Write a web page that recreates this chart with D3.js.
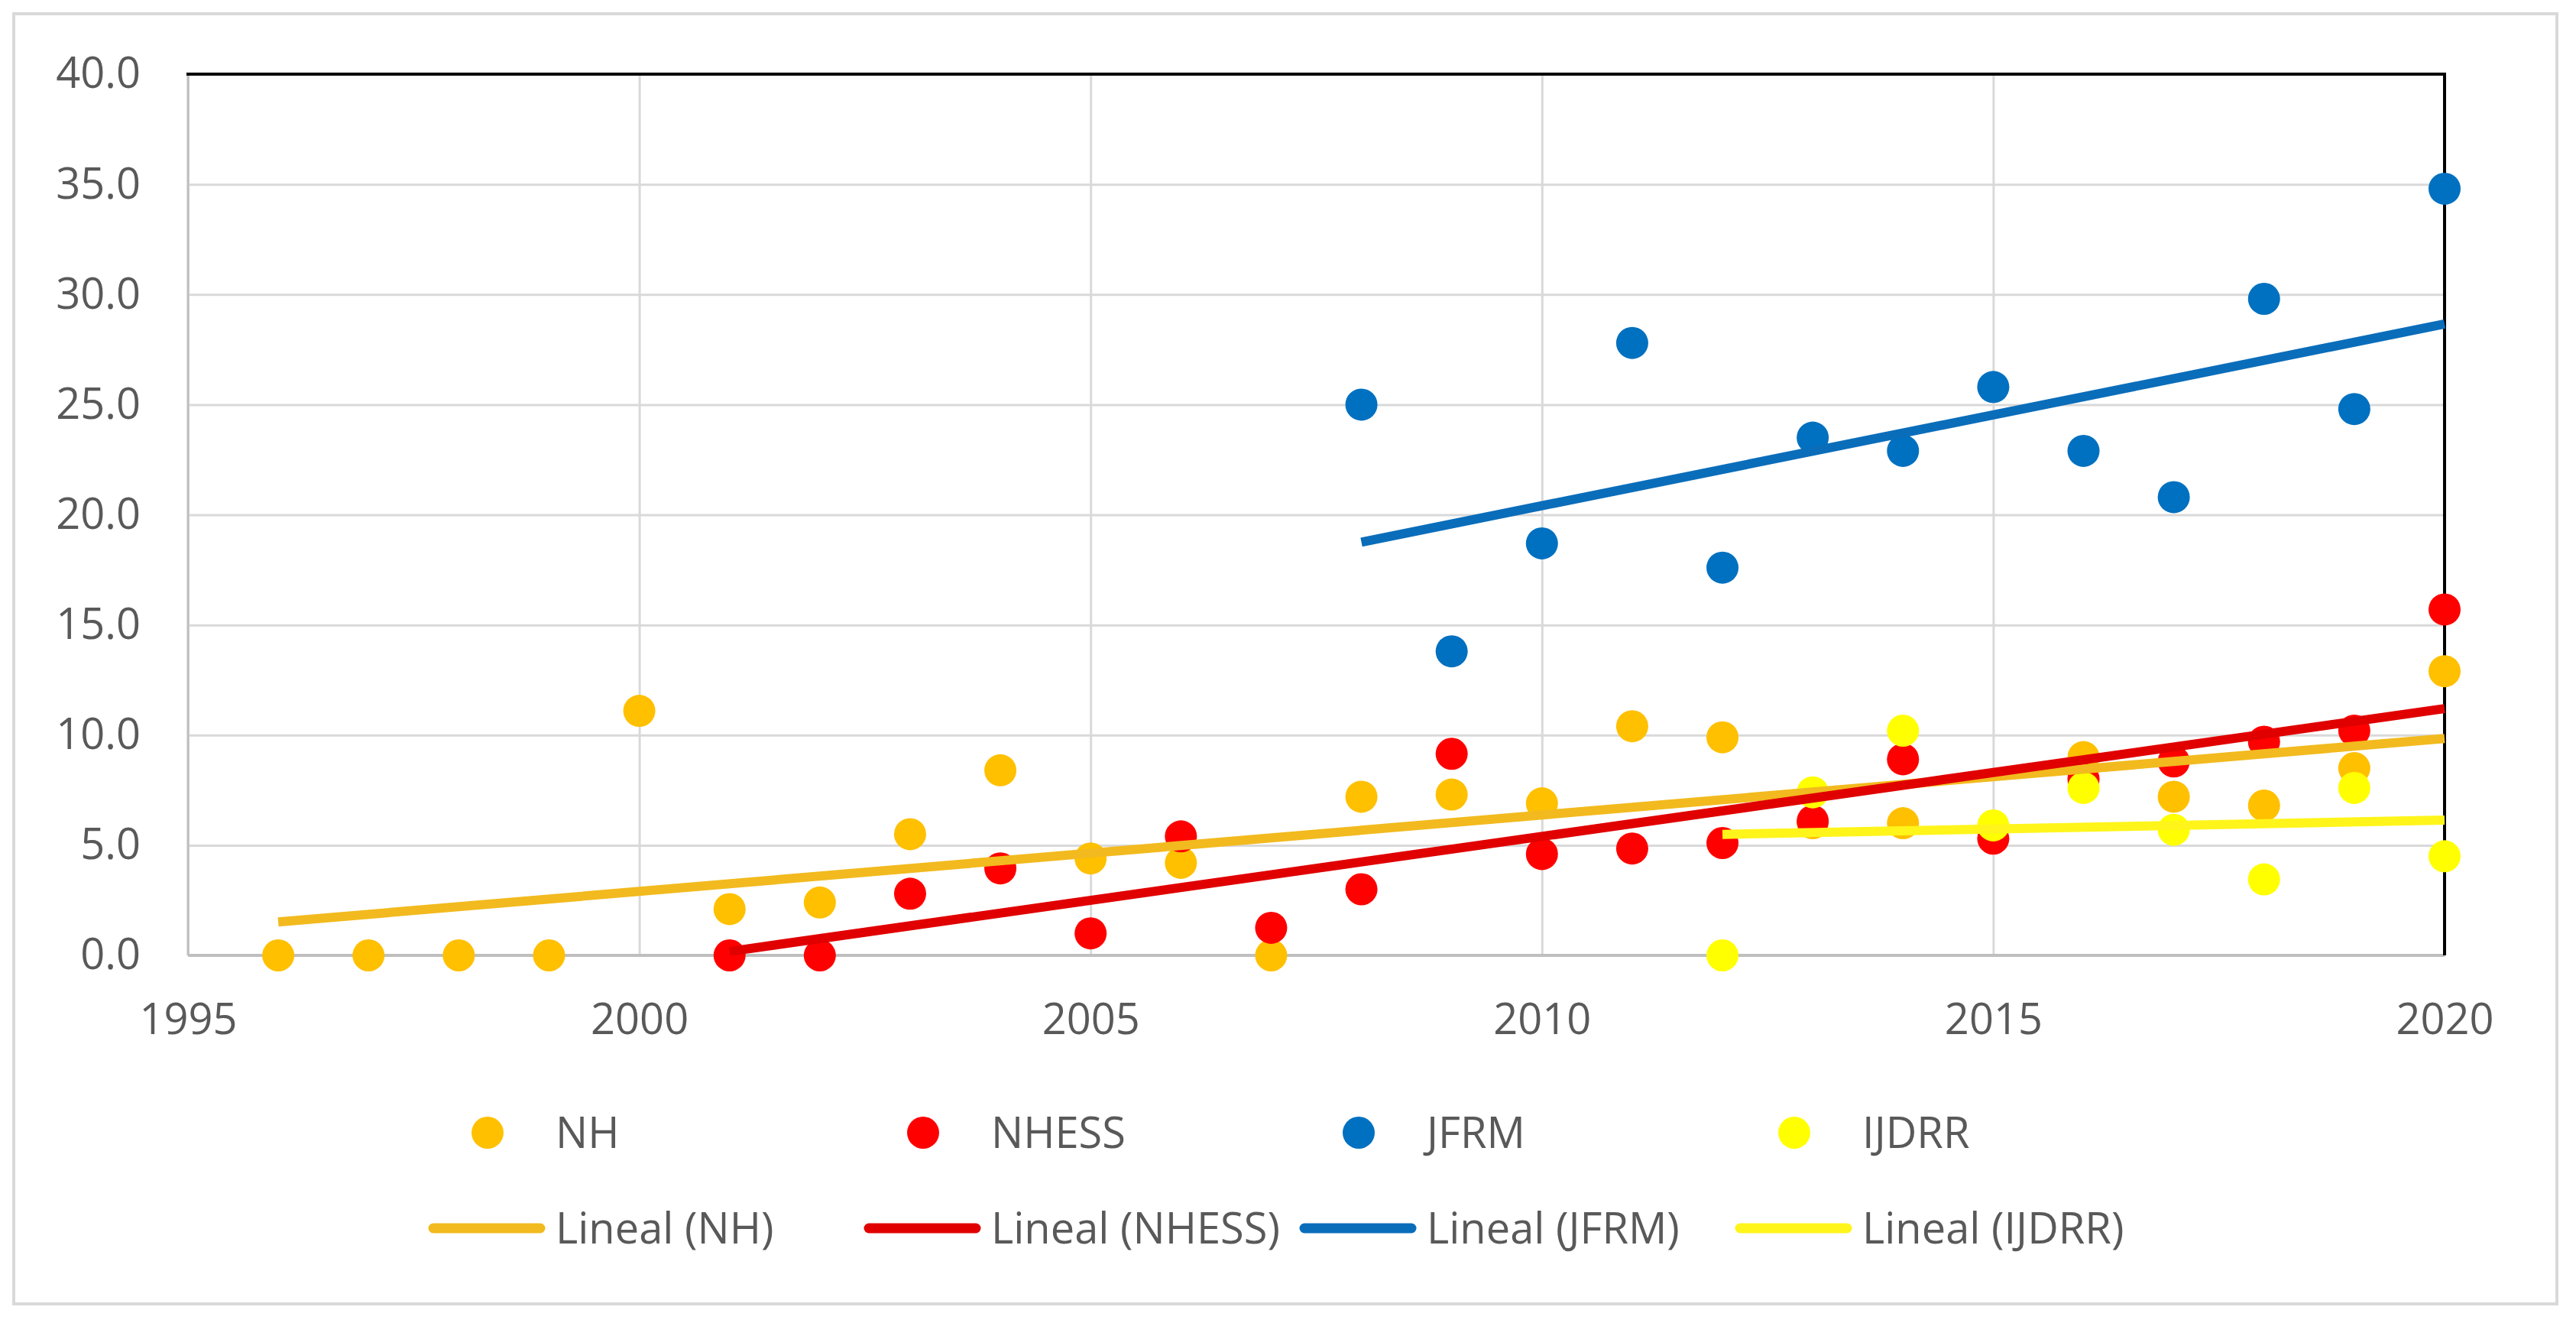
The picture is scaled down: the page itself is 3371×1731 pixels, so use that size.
<!DOCTYPE html>
<html>
<head>
<meta charset="utf-8">
<script src="https://cdn.jsdelivr.net/npm/d3@7"></script>
<style>
    body { margin: 0; background: #ffffff; }
    text { font-family: "Open Sans", sans-serif; }
</style>
</head>
<body>
<svg></svg>
<script>
let nhYears = [1996, 1997, 1998, 1999, 2000, 2001, 2002, 2003, 2004, 2005, 2006, 2007, 2008,
    2009, 2010, 2011, 2012, 2013, 2014, 2015, 2016, 2017, 2018, 2019, 2020];
let nhValues = [0, 0, 0, 0, 11.1, 2.1, 2.4, 5.5, 8.4, 4.4, 4.2, 0, 7.2,
    7.3, 6.9, 10.4, 9.9, 6.0, 6.0, 5.8, 9.0, 7.2, 6.8, 8.5, 12.9];

let nhessYears = [2001, 2002, 2003, 2004, 2005, 2006, 2007, 2008, 2009, 2010,
    2011, 2012, 2013, 2014, 2015, 2016, 2017, 2018, 2019, 2020];
let nhessValues = [0, 0, 2.8, 3.95, 1.0, 5.4, 1.25, 3.0, 9.15, 4.6,
    4.85, 5.1, 6.1, 8.9, 5.3, 8.0, 8.8, 9.7, 10.2, 15.7];

let jfrmYears = [2008, 2009, 2010, 2011, 2012, 2013, 2014, 2015, 2016, 2017, 2018, 2019, 2020];
let jfrmValues = [25.0, 13.8, 18.7, 27.8, 17.6, 23.5, 22.9, 25.8, 22.9, 20.8, 29.8, 24.8, 34.8];

let ijdrrYears = [2012, 2013, 2014, 2015, 2016, 2017, 2018, 2019, 2020];
let ijdrrValues = [0, 7.4, 10.2, 5.9, 7.6, 5.7, 3.45, 7.6, 4.5];

let seriesNames = ['NH', 'NHESS', 'JFRM', 'IJDRR'];
let trendNames = ['Lineal (NH)', 'Lineal (NHESS)', 'Lineal (JFRM)', 'Lineal (IJDRR)'];
let xTicks = [1995, 2000, 2005, 2010, 2015, 2020];
let yTicks = [0, 5, 10, 15, 20, 25, 30, 35, 40];

let dotColors = ['#FFC000', '#FF0000', '#0070C0', '#FFFF00'];
let trendColors = ['#F2BA1E', '#E00000', '#0A6DBA', '#FFF51A'];

let series = [
    { years: nhYears, values: nhValues },
    { years: nhessYears, values: nhessValues },
    { years: jfrmYears, values: jfrmValues },
    { years: ijdrrYears, values: ijdrrValues }
];

let W = 3371, H = 1731;
let plotLeft = 246, plotRight = 3199, plotTop = 97, plotBottom = 1250;

let svg = d3.select('svg')
    .attr('width', W)
    .attr('height', H);

// outer chart border
svg.append('rect')
    .attr('x', 18).attr('y', 18)
    .attr('width', 3328).attr('height', 1688)
    .attr('fill', '#ffffff')
    .attr('stroke', '#D9D9D9')
    .attr('stroke-width', 4);

let xScale = d3.scaleLinear().domain([1995, 2020]).range([plotLeft, plotRight]);
let yScale = d3.scaleLinear().domain([0, 40]).range([plotBottom, plotTop]);

// vertical gridlines + year labels
let xAxis = svg.append('g')
    .attr('transform', `translate(0, ${plotBottom})`)
    .call(d3.axisBottom(xScale)
        .tickValues(xTicks)
        .tickFormat(d3.format('d'))
        .tickSize(-(plotBottom - plotTop))
        .tickPadding(63));
xAxis.select('.domain').remove();
xAxis.selectAll('line').attr('stroke', '#D9D9D9').attr('stroke-width', 3);
xAxis.selectAll('text')
    .attr('fill', '#595959')
    .style('font-size', '56px');

// horizontal gridlines + value labels
let yAxis = svg.append('g')
    .attr('transform', `translate(${plotLeft}, 0)`)
    .call(d3.axisLeft(yScale)
        .tickValues(yTicks)
        .tickFormat(d3.format('.1f'))
        .tickSize(-(plotRight - plotLeft))
        .tickPadding(62));
yAxis.select('.domain').remove();
yAxis.selectAll('line').attr('stroke', '#D9D9D9').attr('stroke-width', 3);
yAxis.selectAll('text')
    .attr('fill', '#595959')
    .style('font-size', '56px');

// axis lines
svg.append('line')
    .attr('x1', xScale(1995)).attr('x2', xScale(1995))
    .attr('y1', yScale(0)).attr('y2', yScale(40))
    .attr('stroke', '#BFBFBF').attr('stroke-width', 3);
svg.append('line')
    .attr('x1', xScale(1995)).attr('x2', xScale(2020))
    .attr('y1', yScale(0)).attr('y2', yScale(0))
    .attr('stroke', '#BFBFBF').attr('stroke-width', 4);
svg.append('line')
    .attr('x1', xScale(1995) - 2).attr('x2', xScale(2020) + 2)
    .attr('y1', yScale(40)).attr('y2', yScale(40))
    .attr('stroke', '#000000').attr('stroke-width', 4);
svg.append('line')
    .attr('x1', xScale(2020)).attr('x2', xScale(2020))
    .attr('y1', yScale(40)).attr('y2', yScale(0))
    .attr('stroke', '#000000').attr('stroke-width', 4);

// markers
series.forEach(function (s, i) {
    svg.append('g')
        .selectAll('circle')
        .data(s.years)
        .enter()
        .append('circle')
        .attr('cx', (d) => xScale(d))
        .attr('cy', (d, j) => yScale(s.values[j]))
        .attr('r', 21)
        .attr('fill', dotColors[i]);
});

// linear trendlines (least squares over each series)
function linearFit(xs, ys) {
    let mx = d3.mean(xs);
    let my = d3.mean(ys);
    let sxy = d3.sum(xs, (x, i) => (x - mx) * (ys[i] - my));
    let sxx = d3.sum(xs, (x) => (x - mx) * (x - mx));
    let b = sxy / sxx;
    return (x) => my + b * (x - mx);
}

series.forEach(function (s, i) {
    let fit = linearFit(s.years, s.values);
    let ends = [s.years[0], s.years[s.years.length - 1]];
    svg.append('path')
        .datum(ends)
        .attr('fill', 'none')
        .attr('stroke', trendColors[i])
        .attr('stroke-width', 12)
        .attr('d', d3.line()
            .x((d) => xScale(d))
            .y((d) => yScale(fit(d))));
});

// legend
let legendX0 = 727, legendStep = 570;
let row1 = 1482, row2 = 1607;

let legend = svg.append('g');
seriesNames.forEach(function (name, i) {
    let tx = legendX0 + i * legendStep;
    legend.append('circle')
        .attr('cx', tx - 89)
        .attr('cy', row1)
        .attr('r', 21)
        .attr('fill', dotColors[i]);
    legend.append('text')
        .attr('x', tx)
        .attr('y', row1)
        .attr('dy', '0.35em')
        .attr('fill', '#595959')
        .style('font-size', '56px')
        .text(name);
    legend.append('line')
        .attr('x1', tx - 160).attr('x2', tx - 20)
        .attr('y1', row2).attr('y2', row2)
        .attr('stroke', trendColors[i])
        .attr('stroke-width', 13)
        .attr('stroke-linecap', 'round');
    legend.append('text')
        .attr('x', tx)
        .attr('y', row2)
        .attr('dy', '0.35em')
        .attr('fill', '#595959')
        .style('font-size', '56px')
        .text(trendNames[i]);
});
</script>
</body>
</html>
